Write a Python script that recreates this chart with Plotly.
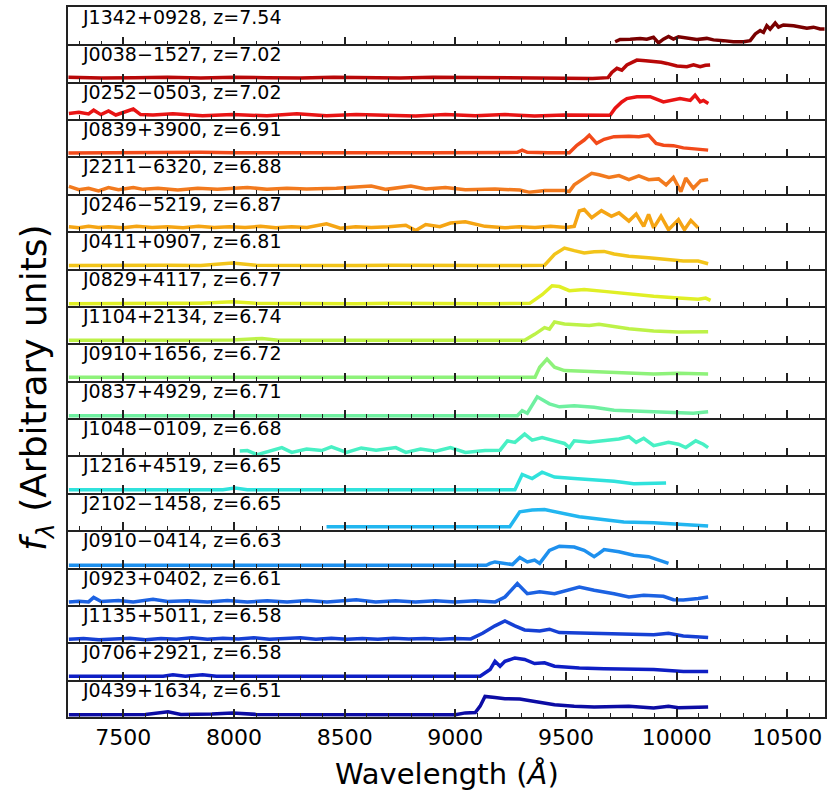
import plotly.graph_objects as go
from plotly.subplots import make_subplots

names = ["J1342+0928", "J0038−1527", "J0252−0503", "J0839+3900", "J2211−6320",
         "J0246−5219", "J0411+0907", "J0829+4117", "J1104+2134", "J0910+1656",
         "J0837+4929", "J1048−0109", "J1216+4519", "J2102−1458", "J0910−0414",
         "J0923+0402", "J1135+5011", "J0706+2921", "J0439+1634"]
redshifts = ["7.54", "7.02", "7.02", "6.91", "6.88", "6.87", "6.81", "6.77", "6.74", "6.72",
             "6.71", "6.68", "6.65", "6.65", "6.63", "6.61", "6.58", "6.58", "6.51"]

wl_J1342 = [9722, 9744, 9790, 9835, 9865, 9895, 9918, 9940, 9963, 9985, 10008, 10046, 10091, 10136, 10166, 10211,
            10256, 10302, 10332, 10355, 10377, 10392, 10407, 10422, 10445, 10460, 10482, 10528, 10558, 10588, 10618,
            10648, 10668]
fl_J1342 = [0.07, 0.13, 0.14, 0.16, 0.14, 0.19, 0.04, 0.14, 0.21, 0.14, 0.20, 0.17, 0.13, 0.16, 0.12, 0.10,
            0.07, 0.07, 0.10, 0.28, 0.37, 0.32, 0.50, 0.41, 0.57, 0.46, 0.52, 0.50, 0.46, 0.43, 0.46,
            0.41, 0.41]

wl_J0038 = [7252, 7400, 7550, 7700, 7850, 8000, 8150, 8300, 8450, 8600, 8750, 8900, 9050, 9200, 9350, 9500,
            9620, 9690, 9707, 9730, 9752, 9775, 9800, 9820, 9860, 9895, 9930, 9955, 10001, 10046, 10076, 10106,
            10130, 10151]
fl_J0038 = [0.12, 0.10, 0.11, 0.12, 0.10, 0.12, 0.11, 0.10, 0.12, 0.11, 0.10, 0.12, 0.11, 0.10, 0.11, 0.10,
            0.09, 0.11, 0.25, 0.36, 0.31, 0.45, 0.52, 0.58, 0.56, 0.55, 0.52, 0.49, 0.42, 0.40, 0.45, 0.40,
            0.44, 0.45]

wl_J0252 = [7254, 7299, 7343, 7366, 7399, 7433, 7466, 7511, 7545, 7578, 7634, 7724, 7858, 7993, 8149, 8284,
            8418, 8552, 8687, 8821, 8955, 9090, 9224, 9358, 9493, 9672, 9699, 9722, 9752, 9775, 9820, 9880,
            9940, 10015, 10061, 10083, 10106, 10121, 10143]
fl_J0252 = [0.15, 0.18, 0.14, 0.24, 0.12, 0.22, 0.11, 0.20, 0.27, 0.12, 0.11, 0.14, 0.09, 0.12, 0.09, 0.14,
            0.09, 0.12, 0.11, 0.08, 0.12, 0.09, 0.12, 0.08, 0.11, 0.09, 0.10, 0.29, 0.46, 0.55, 0.60, 0.60,
            0.46, 0.55, 0.50, 0.64, 0.46, 0.50, 0.42]

wl_J0839 = [7252, 7400, 7550, 7700, 7850, 8000, 8150, 8300, 8450, 8600, 8750, 8900, 9050, 9200, 9280, 9302,
            9325, 9420, 9515, 9549, 9582, 9605, 9638, 9672, 9717, 9784, 9829, 9873, 9907, 9940, 9985, 10030,
            10075, 10142]
fl_J0839 = [0.09, 0.10, 0.09, 0.10, 0.11, 0.10, 0.09, 0.10, 0.10, 0.11, 0.10, 0.10, 0.11, 0.10, 0.11, 0.17,
            0.11, 0.10, 0.10, 0.30, 0.44, 0.57, 0.35, 0.46, 0.53, 0.54, 0.53, 0.57, 0.35, 0.30, 0.29, 0.23,
            0.21, 0.17]

wl_J2211 = [7254, 7299, 7343, 7388, 7433, 7478, 7545, 7590, 7657, 7746, 7836, 7925, 8060, 8149, 8239, 8328,
            8463, 8620, 8687, 8799, 8866, 8955, 9045, 9179, 9291, 9336, 9403, 9493, 9515, 9537, 9582, 9616,
            9649, 9694, 9739, 9784, 9829, 9873, 9918, 9952, 9985, 10019, 10041, 10075, 10108, 10142]
fl_J2211 = [0.20, 0.11, 0.15, 0.08, 0.17, 0.11, 0.17, 0.12, 0.15, 0.10, 0.15, 0.12, 0.17, 0.12, 0.15, 0.13,
            0.15, 0.21, 0.12, 0.21, 0.13, 0.17, 0.11, 0.13, 0.10, 0.04, 0.09, 0.09, 0.06, 0.24, 0.42, 0.55,
            0.51, 0.44, 0.49, 0.38, 0.48, 0.38, 0.40, 0.24, 0.44, 0.06, 0.42, 0.15, 0.35, 0.38]

wl_J0246 = [7254, 7299, 7343, 7388, 7433, 7500, 7560, 7630, 7700, 7770, 7840, 7910, 7980, 8050, 8120, 8190,
            8260, 8330, 8418, 8480, 8550, 8620, 8700, 8776, 8821, 8866, 8930, 8978, 9045, 9134, 9224, 9290,
            9360, 9430, 9500, 9537, 9560, 9582, 9616, 9660, 9705, 9739, 9784, 9817, 9851, 9873, 9896, 9929,
            9963, 10008, 10035, 10064, 10097]
fl_J0246 = [0.12, 0.09, 0.13, 0.10, 0.12, 0.09, 0.13, 0.10, 0.12, 0.09, 0.13, 0.10, 0.12, 0.10, 0.13, 0.09,
            0.12, 0.10, 0.20, 0.08, 0.12, 0.10, 0.12, 0.16, 0.02, 0.18, 0.12, 0.22, 0.25, 0.13, 0.09, 0.12,
            0.10, 0.13, 0.10, 0.13, 0.54, 0.58, 0.36, 0.55, 0.40, 0.49, 0.27, 0.46, 0.13, 0.45, 0.09, 0.40,
            0.04, 0.31, 0.04, 0.29, 0.09]

wl_J0411 = [7254, 7400, 7550, 7700, 7850, 7993, 8100, 8250, 8400, 8550, 8700, 8850, 9000, 9150, 9300, 9403,
            9448, 9493, 9537, 9582, 9627, 9672, 9717, 9784, 9873, 9963, 10030, 10097, 10142]
fl_J0411 = [0.08, 0.09, 0.08, 0.09, 0.08, 0.15, 0.09, 0.08, 0.09, 0.08, 0.09, 0.08, 0.09, 0.08, 0.08, 0.09,
            0.38, 0.55, 0.48, 0.42, 0.45, 0.46, 0.39, 0.33, 0.29, 0.24, 0.20, 0.20, 0.13]

wl_J0829 = [7254, 7400, 7550, 7700, 7850, 7993, 8100, 8250, 8400, 8550, 8700, 8850, 9000, 9150, 9336, 9392,
            9437, 9470, 9515, 9582, 9672, 9784, 9896, 10008, 10097, 10131, 10153]
fl_J0829 = [0.06, 0.07, 0.06, 0.07, 0.07, 0.11, 0.07, 0.06, 0.07, 0.06, 0.07, 0.06, 0.07, 0.06, 0.07, 0.30,
            0.54, 0.52, 0.41, 0.44, 0.39, 0.32, 0.26, 0.21, 0.18, 0.21, 0.15]

wl_J1104 = [7254, 7400, 7550, 7700, 7850, 7993, 8127, 8200, 8350, 8500, 8650, 8800, 8950, 9100, 9250, 9313,
            9358, 9403, 9425, 9448, 9493, 9537, 9605, 9649, 9717, 9784, 9896, 10008, 10142]
fl_J1104 = [0.08, 0.08, 0.07, 0.08, 0.08, 0.09, 0.13, 0.08, 0.08, 0.07, 0.08, 0.08, 0.07, 0.08, 0.08, 0.08,
            0.24, 0.42, 0.38, 0.57, 0.52, 0.51, 0.48, 0.51, 0.44, 0.39, 0.33, 0.30, 0.31]

wl_J0910a = [7254, 7500, 7750, 8000, 8250, 8500, 8750, 9000, 9250, 9360, 9381, 9414, 9448, 9493, 9582, 9672,
             9784, 9896, 10008, 10142]
fl_J0910a = [0.09, 0.09, 0.09, 0.09, 0.09, 0.09, 0.09, 0.09, 0.09, 0.09, 0.36, 0.58, 0.36, 0.27, 0.25, 0.23,
             0.21, 0.18, 0.20, 0.18]

wl_J0837 = [7254, 7500, 7750, 8000, 8250, 8500, 8750, 9000, 9280, 9302, 9325, 9370, 9425, 9470, 9537, 9627,
            9717, 9896, 10075, 10142]
fl_J0837 = [0.06, 0.06, 0.06, 0.06, 0.06, 0.06, 0.06, 0.06, 0.06, 0.20, 0.13, 0.57, 0.38, 0.30, 0.33, 0.29,
            0.21, 0.17, 0.13, 0.17]

wl_J1048 = [8026, 8060, 8105, 8172, 8216, 8261, 8328, 8396, 8440, 8508, 8575, 8642, 8731, 8776, 8843, 8911,
            8978, 9045, 9134, 9202, 9235, 9269, 9313, 9347, 9392, 9448, 9493, 9515, 9537, 9605, 9672, 9739,
            9784, 9817, 9851, 9896, 9963, 10008, 10041, 10086, 10120, 10142]
fl_J1048 = [0.12, 0.13, 0.02, 0.13, 0.21, 0.08, 0.17, 0.13, 0.23, 0.08, 0.20, 0.14, 0.21, 0.08, 0.17, 0.11,
            0.21, 0.08, 0.13, 0.14, 0.39, 0.35, 0.57, 0.41, 0.48, 0.39, 0.32, 0.21, 0.39, 0.35, 0.39, 0.44,
            0.50, 0.35, 0.46, 0.26, 0.35, 0.30, 0.21, 0.39, 0.30, 0.21]

wl_J1216 = [7254, 7500, 7750, 7950, 8004, 8060, 8300, 8550, 8800, 9050, 9269, 9302, 9347, 9392, 9448, 9537,
            9627, 9717, 9806, 9873, 9952]
fl_J1216 = [0.08, 0.08, 0.08, 0.08, 0.13, 0.08, 0.08, 0.08, 0.08, 0.08, 0.08, 0.49, 0.38, 0.55, 0.42, 0.38,
            0.35, 0.31, 0.24, 0.24, 0.26]

wl_J2102 = [8418, 8600, 8800, 9000, 9246, 9291, 9347, 9403, 9448, 9515, 9560, 9627, 9694, 9761, 9896, 10008,
            10142]
fl_J2102 = [0.09, 0.09, 0.09, 0.09, 0.09, 0.49, 0.54, 0.55, 0.49, 0.40, 0.36, 0.31, 0.27, 0.22, 0.20, 0.16,
            0.11]

wl_J0910b = [7254, 7500, 7750, 8000, 8250, 8500, 8750, 9000, 9140, 9157, 9179, 9258, 9291, 9325, 9358, 9381,
             9425, 9470, 9537, 9582, 9627, 9649, 9672, 9739, 9806, 9873, 9940, 9963]
fl_J0910b = [0.06, 0.06, 0.06, 0.06, 0.06, 0.06, 0.06, 0.06, 0.06, 0.11, 0.15, 0.08, 0.27, 0.15, 0.20, 0.11,
             0.46, 0.57, 0.55, 0.46, 0.29, 0.38, 0.48, 0.42, 0.33, 0.29, 0.15, 0.11]

wl_J0923 = [7254, 7299, 7343, 7366, 7400, 7478, 7545, 7634, 7700, 7790, 7880, 7970, 8060, 8150, 8240, 8330,
            8420, 8508, 8552, 8640, 8730, 8820, 8910, 9000, 9090, 9180, 9224, 9280, 9325, 9381, 9448, 9560,
            9627, 9717, 9784, 9851, 9940, 9985, 10030, 10097, 10142]
fl_J0923 = [0.08, 0.10, 0.08, 0.20, 0.09, 0.12, 0.08, 0.15, 0.09, 0.11, 0.08, 0.12, 0.08, 0.11, 0.08, 0.12,
            0.08, 0.11, 0.14, 0.08, 0.11, 0.08, 0.11, 0.08, 0.11, 0.08, 0.21, 0.57, 0.30, 0.35, 0.30, 0.48,
            0.39, 0.30, 0.21, 0.26, 0.23, 0.14, 0.13, 0.17, 0.21]

wl_J1135 = [7254, 7320, 7390, 7460, 7530, 7600, 7670, 7740, 7810, 7880, 7950, 8020, 8090, 8160, 8230, 8300,
            8370, 8440, 8510, 8580, 8650, 8720, 8790, 8860, 8930, 9000, 9070, 9123, 9179, 9224, 9269, 9313,
            9381, 9425, 9470, 9582, 9717, 9896, 9963, 10030, 10142]
fl_J1135 = [0.08, 0.10, 0.07, 0.09, 0.11, 0.07, 0.10, 0.08, 0.12, 0.08, 0.11, 0.09, 0.12, 0.08, 0.10, 0.12,
            0.08, 0.11, 0.08, 0.10, 0.08, 0.11, 0.09, 0.10, 0.08, 0.10, 0.09, 0.24, 0.44, 0.57, 0.44, 0.33,
            0.30, 0.35, 0.26, 0.24, 0.22, 0.20, 0.24, 0.17, 0.13]

wl_J0706 = [7254, 7500, 7680, 7724, 7780, 7858, 7920, 8200, 8500, 8800, 9112, 9157, 9179, 9202, 9224, 9269,
            9313, 9358, 9403, 9448, 9560, 9672, 9784, 9896, 10030, 10142]
fl_J0706 = [0.09, 0.09, 0.09, 0.13, 0.09, 0.13, 0.09, 0.09, 0.09, 0.09, 0.09, 0.27, 0.49, 0.36, 0.49, 0.58,
            0.54, 0.43, 0.45, 0.36, 0.31, 0.29, 0.29, 0.27, 0.22, 0.22]

wl_J0439 = [7254, 7400, 7600, 7702, 7760, 7900, 7993, 8100, 8300, 8500, 8700, 8900, 9000, 9045, 9090, 9112,
            9134, 9179, 9224, 9291, 9336, 9381, 9448, 9537, 9627, 9784, 9896, 9963, 10008, 10142]
fl_J0439 = [0.06, 0.06, 0.07, 0.14, 0.07, 0.08, 0.11, 0.07, 0.07, 0.06, 0.07, 0.06, 0.06, 0.11, 0.12, 0.29,
            0.55, 0.52, 0.49, 0.48, 0.44, 0.38, 0.33, 0.29, 0.27, 0.29, 0.24, 0.29, 0.25, 0.27]

spectra_wl = [wl_J1342, wl_J0038, wl_J0252, wl_J0839, wl_J2211, wl_J0246, wl_J0411, wl_J0829, wl_J1104,
              wl_J0910a, wl_J0837, wl_J1048, wl_J1216, wl_J2102, wl_J0910b, wl_J0923, wl_J1135, wl_J0706,
              wl_J0439]
spectra_fl = [fl_J1342, fl_J0038, fl_J0252, fl_J0839, fl_J2211, fl_J0246, fl_J0411, fl_J0829, fl_J1104,
              fl_J0910a, fl_J0837, fl_J1048, fl_J1216, fl_J2102, fl_J0910b, fl_J0923, fl_J1135, fl_J0706,
              fl_J0439]

# line colours (jet-like sequence, top to bottom)
line_colors = ["#7a0000", "#b80808", "#e81414", "#f24a1a", "#f27a1e", "#f5a514", "#f2c41a", "#e0ef26",
               "#bdf248", "#8ef27a", "#6ff0a0", "#48f0c4", "#30e2dc", "#22b6f0", "#1e90ee", "#1c62e2",
               "#1640d4", "#0e1ec4", "#0c0ca4"]

X_MIN, X_MAX = 7250, 10670
tick_vals = [7500, 8000, 8500, 9000, 9500, 10000, 10500]

n = len(names)
fig = make_subplots(rows=n, cols=1, shared_xaxes=True, vertical_spacing=0)

for i in range(n):
    fig.add_trace(go.Scatter(x=spectra_wl[i], y=spectra_fl[i], mode="lines",
                             line=dict(color=line_colors[i], width=3.5), showlegend=False,
                             hoverinfo="skip"), row=i + 1, col=1)
    fig.update_xaxes(row=i + 1, col=1, range=[X_MIN, X_MAX], showline=True, mirror=(i == 0),
                     linecolor="#222222", linewidth=1.5, showgrid=False, zeroline=False,
                     ticks="inside", tickvals=tick_vals, ticktext=[str(v) for v in tick_vals],
                     ticklen=8, tickwidth=1.5, tickcolor="#222222",
                     minor=dict(ticks="inside", dtick=100, tick0=7500, ticklen=4, tickwidth=1.2,
                                tickcolor="#222222", showgrid=False),
                     showticklabels=(i == n - 1),
                     tickfont=dict(family="DejaVu Sans", size=22, color="black"))
    fig.update_yaxes(row=i + 1, col=1, range=[0, 1], showline=True, mirror=True, linecolor="#222222",
                     linewidth=1.5, showgrid=False, zeroline=False, showticklabels=False, ticks="")
    yref = "y domain" if i == 0 else "y%d domain" % (i + 1)
    xref = "x" if i == 0 else "x%d" % (i + 1)
    fig.add_annotation(text="%s, z=%s" % (names[i], redshifts[i]), xref=xref, yref=yref,
                       x=X_MIN, y=1, xanchor="left", yanchor="top", xshift=12, yshift=3,
                       showarrow=False, font=dict(family="DejaVu Sans", size=19, color="black"))

fig.add_annotation(text="Wavelength (<i>Å</i>)", xref="paper", yref="paper",
                   x=0.5, y=-0.080, xanchor="center", yanchor="middle", showarrow=False,
                   font=dict(family="DejaVu Sans", size=29, color="black"))

fig.add_annotation(text="<i>f</i><sub><i>λ</i></sub> (Arbitrary units)", xref="paper", yref="paper",
                   x=-0.041, y=0.4635, xanchor="center", yanchor="middle", textangle=-90,
                   showarrow=False, font=dict(family="DejaVu Sans", size=36, color="black"))

fig.update_layout(width=840, height=793, margin=dict(l=68, r=15, t=5, b=76),
                  paper_bgcolor="white", plot_bgcolor="white")

fig.write_html("out.html")
